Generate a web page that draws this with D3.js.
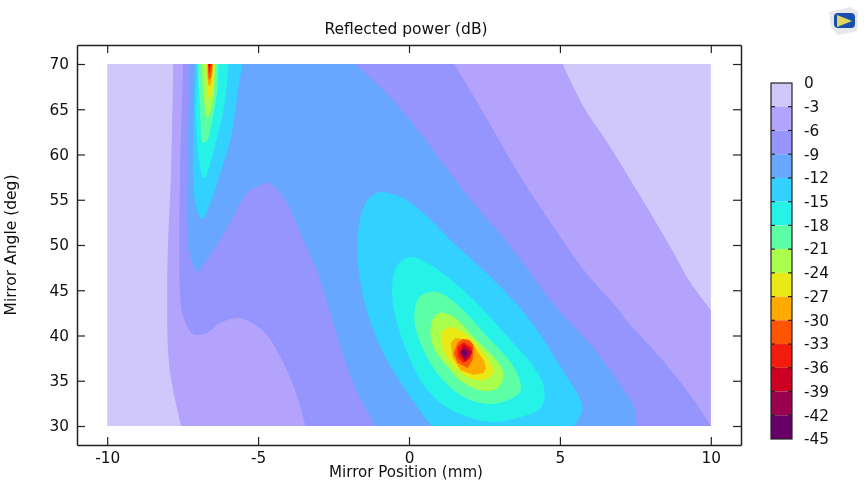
<!DOCTYPE html>
<html><head><meta charset="utf-8">
<script src="https://cdn.jsdelivr.net/npm/d3@7"></script>
<style>html,body{margin:0;padding:0;background:#fff}svg{display:block;filter:blur(0.35px)}text{font-family:"DejaVu Sans";fill:#111}</style>
</head><body><svg id="c" width="866" height="487"></svg>
<script>
const xTicks=[-10,-5,0,5,10];
const yTicks=[30,35,40,45,50,55,60,65,70];
const legendLevels=[0,-3,-6,-9,-12,-15,-18,-21,-24,-27,-30,-33,-36,-39,-42,-45];
const bandColors=["#d0c8fa","#b3a3fc","#9595fd","#67a7ff","#33d1ff","#27f2e8","#5dffa6","#aaff4d","#e9e916","#ffaa00","#ff5500","#f21b0d","#cc0022","#99004d","#660066"];
// contour lines: [mirror position mm, mirror angle deg]
const m3West=[[-7.81,70],[-7.88,58.29],[-7.98,50.55],[-8.01,45.36],[-7.94,36.52],[-7.55,30]];
const cornerSE=[[10,30]];
const m3East=[[10,42.82],[9.27,46.13],[8.77,49.12],[7.68,55.3],[6.58,61.27],[5.79,65.25],[5.09,70]];
const m6West=[[-7.48,70],[-7.58,58.29],[-7.61,50.55],[-7.58,44.25],[-7.48,42.04],[-7.21,40.28],[-7.01,40.06],[-6.65,40.39],[-6.25,41.38],[-5.66,41.93],[-5.26,41.49],[-4.76,40.28],[-4.16,36.96],[-3.7,33.2],[-3.43,30]];
const m6East=[[10,30],[9.44,32.87],[8.34,37.51],[7.25,41.49],[6.92,42.93],[5.79,47.24],[4.79,51.99],[3.7,57.51],[2.6,63.81],[1.51,70]];
const m9West=[[-7.25,70],[-7.35,51.33],[-7.25,48.67],[-7.01,47.02],[-6.82,47.79],[-6.48,49.45],[-5.92,52.54],[-5.36,55.75],[-4.93,56.63],[-4.66,56.85],[-4.33,56.08],[-3.93,53.87],[-3.5,50.55],[-3.03,46.91],[-2.6,42.49],[-2.27,38.73],[-1.71,33.65],[-1.11,30]];
const m9East=[[7.55,30],[7.45,32.1],[7.11,33.98],[6.12,38.62],[4.93,42.93],[3.27,50.22],[2.14,54.64],[1.04,59.39],[-0.05,64.14],[-0.85,67.13],[-1.77,70]];
const m12Top=[[-5.52,70],[-5.66,67.13],[-5.92,61.6],[-6.25,57.96],[-6.58,54.64],[-6.85,52.87],[-7.05,54.2],[-7.15,56.85],[-7.15,61.6],[-7.08,70]];
const m12Low=[[0.75,30],[-0.05,33.65],[-0.85,38.07],[-1.38,42.49],[-1.67,47.24],[-1.71,50.55],[-1.54,53.87],[-1.28,55.3],[-0.95,55.86],[-0.28,55.3],[0.48,53.54],[1.48,50.22],[2.7,46.46],[3.93,42.04],[5.02,36.52],[5.75,31.99],[5.46,30]];
const m15Top=[[-5.99,70],[-6.09,66.02],[-6.32,62.38],[-6.58,59.06],[-6.75,57.51],[-6.82,57.4],[-6.98,60.17],[-7.05,63.48],[-7.01,70]];
const m15Low=[[0.05,48.67],[0.71,47.79],[1.48,45.91],[2.37,43.15],[3.27,39.83],[4.13,36.52],[4.49,33.98],[4.36,31.99],[3.7,30.99],[2.8,30.44],[1.94,30.99],[1.04,32.54],[0.38,35.08],[-0.18,39.17],[-0.51,43.15],[-0.55,45.8],[-0.38,47.79]];
const m18Top=[[-6.32,70],[-6.35,67.13],[-6.52,63.81],[-6.68,61.6],[-6.82,61.27],[-6.92,64.92],[-6.98,70]];
const m18Low=[[0.71,44.81],[1.04,44.7],[1.71,43.04],[2.6,39.83],[3.47,36.52],[3.7,33.98],[3.27,32.87],[2.6,32.43],[1.81,33.2],[1.04,35.41],[0.48,38.4],[0.18,41.71],[0.32,44.14]];
const m21Top=[[-6.42,70],[-6.48,66.35],[-6.62,64.36],[-6.68,64.14],[-6.82,67.13],[-6.85,70]];
const m21Low=[[1.04,42.49],[1.48,42.04],[2.14,39.83],[2.94,37.07],[3.13,35.86],[2.94,34.2],[2.47,33.87],[1.81,34.75],[1.28,36.52],[0.81,38.73],[0.71,40.61],[0.81,41.93]];
const m24Top=[[-6.45,70],[-6.48,68.12],[-6.55,66.46],[-6.62,66.24],[-6.68,68.12],[-6.72,70]];
const m24Low=[[1.38,40.94],[1.81,40.28],[2.47,38.07],[2.8,35.97],[2.47,35.08],[1.94,35.41],[1.38,36.96],[1.11,38.73],[1.08,40.28]];
const m27Top=[[-6.48,70],[-6.52,68.78],[-6.58,67.68],[-6.62,67.57],[-6.68,68.78],[-6.68,70]];
const m27Low=[[1.54,39.72],[1.97,39.5],[2.2,38.6],[2.47,37.29],[2.55,36.4],[2.47,35.86],[2.14,35.64],[1.71,36.19],[1.44,37.62],[1.38,39.17]];
const m30Top=[[-6.52,70],[-6.55,68.78],[-6.62,68.23],[-6.65,68.78],[-6.65,70]];
const m30Low=[[1.77,39.61],[2.0,39.5],[2.14,38.95],[2.11,37.29],[1.94,36.41],[1.61,36.96],[1.48,38.07],[1.61,39.17]];
const m33Top=[[-6.55,70],[-6.62,69],[-6.65,70]];
const m33Low=[[1.81,39.28],[2.11,38.62],[2.04,37.51],[1.81,36.96],[1.61,37.62],[1.61,38.73]];
const m36Top=[[-6.58,70],[-6.62,69.65],[-6.64,70]];
const m36Low=[[1.81,39.06],[2.11,38.18],[1.87,37.07],[1.68,38.07]];
const m39Low=[[1.81,38.73],[2.04,38.07],[1.84,37.29],[1.71,38.07]];
const m42Low=[[1.81,38.51],[1.94,38.07],[1.84,37.62],[1.74,38.07]];

const regions=[
 [1,false,[m3West,cornerSE,m3East]],
 [2,false,[m6West,m6East]],
 [3,false,[m9West,m9East]],
 [4,false,[m12Top]],[4,false,[m12Low]],
 [5,false,[m15Top]],[5,true,[m15Low]],
 [6,false,[m18Top]],[6,true,[m18Low]],
 [7,false,[m21Top]],[7,true,[m21Low]],
 [8,false,[m24Top]],[8,true,[m24Low]],
 [9,false,[m27Top]],[9,"poly",[m27Low]],
 [10,false,[m30Top]],[10,"poly",[m30Low]],
 [11,false,[m33Top]],[11,"poly",[m33Low]],
 [12,false,[m36Top]],[12,"poly",[m36Low]],
 [13,"poly",[m39Low]],
 [14,"poly",[m42Low]]
];

const svg=d3.select("#c");
const x=d3.scaleLinear().domain([-11,11]).range([77,741]);
const y=d3.scaleLinear().domain([27.9,72.1]).range([445,45]);
const g=svg.append("g");
g.append("rect").attr("x",x(-10)).attr("y",y(70)).attr("width",x(10)-x(-10)).attr("height",y(30)-y(70)).attr("fill",bandColors[0]);
const openLine=d3.line().x(d=>x(d[0])).y(d=>y(d[1])).curve(d3.curveCatmullRom.alpha(0.5));
const closedLine=d3.line().x(d=>x(d[0])).y(d=>y(d[1])).curve(d3.curveCatmullRomClosed.alpha(0.5));
const polyLine=d3.line().x(d=>x(d[0])).y(d=>y(d[1])).curve(d3.curveLinearClosed);
function regionPath(closed,segs){
  if(closed==="poly") return polyLine(segs[0]);
  if(closed) return closedLine(segs[0]);
  return segs.map((s,i)=>{
    const p=s.length===1?`M${x(s[0][0])},${y(s[0][1])}`:openLine(s);
    return i?"L"+p.slice(1):p;
  }).join("")+"Z";
}
g.selectAll("path.band").data(regions).join("path").attr("class","band")
 .attr("d",d=>regionPath(d[1],d[2])).attr("fill",d=>bandColors[d[0]]);

const tickCol="#222";
function styleAxis(a){a.select(".domain").attr("stroke",tickCol).attr("stroke-width",1.5);
 a.selectAll(".tick line").attr("stroke",tickCol).attr("stroke-width",1.2);
 a.selectAll("text").attr("font-size",15.3).attr("font-family","DejaVu Sans").attr("fill","#111");}
const fmt=d=>String(d);
styleAxis(svg.append("g").attr("transform","translate(0,445)").call(d3.axisBottom(x).tickValues(xTicks).tickFormat(fmt).tickSize(-8).tickPadding(7).tickSizeOuter(0)));
styleAxis(svg.append("g").attr("transform","translate(0,45)").call(d3.axisTop(x).tickValues(xTicks).tickFormat("").tickSize(-8).tickSizeOuter(0)));
styleAxis(svg.append("g").attr("transform","translate(77,0)").call(d3.axisLeft(y).tickValues(yTicks).tickFormat(fmt).tickSize(-8).tickPadding(8).tickSizeOuter(0)));
styleAxis(svg.append("g").attr("transform","translate(741,0)").call(d3.axisRight(y).tickValues(yTicks).tickFormat("").tickSize(-8).tickSizeOuter(0)));

svg.append("text").attr("x",406).attr("y",34).attr("text-anchor","middle").attr("font-size",15.5).text("Reflected power (dB)");
svg.append("text").attr("x",406).attr("y",477).attr("text-anchor","middle").attr("font-size",15.1).text("Mirror Position (mm)");
svg.append("text").attr("transform","translate(16,245) rotate(-90)").attr("text-anchor","middle").attr("font-size",15.5).text("Mirror Angle (deg)");

// colour legend
const leg=d3.scaleLinear().domain([0,-45]).range([83,439]);
svg.selectAll("rect.leg").data(bandColors).join("rect").attr("class","leg")
 .attr("x",771).attr("width",21).attr("y",(d,i)=>leg(legendLevels[i])).attr("height",(d,i)=>leg(legendLevels[i+1])-leg(legendLevels[i])).attr("fill",d=>d);
svg.append("rect").attr("x",771).attr("y",83).attr("width",21).attr("height",356).attr("fill","none").attr("stroke",tickCol).attr("stroke-width",1.2);
const inner=legendLevels.slice(1,-1);
svg.selectAll("line.l1").data(inner).join("line").attr("class","l1").attr("x1",771).attr("x2",775).attr("y1",d=>leg(d)).attr("y2",d=>leg(d)).attr("stroke",tickCol).attr("stroke-width",1.2);
svg.selectAll("line.l2").data(inner).join("line").attr("class","l2").attr("x1",788).attr("x2",792).attr("y1",d=>leg(d)).attr("y2",d=>leg(d)).attr("stroke",tickCol).attr("stroke-width",1.2);
svg.selectAll("text.lt").data(legendLevels).join("text").attr("class","lt").attr("x",804).attr("y",d=>leg(d)).attr("dy","0.35em").attr("font-size",15.3).text(d=>String(d));

// small application logo, top right
const logo=svg.append("g");
logo.append("path").attr("d","M829,12 L851,7 L858,12 L857,31 L838,35 L831,27Z").attr("fill","#e6e8ec");
logo.append("rect").attr("x",834).attr("y",13).attr("width",21).attr("height",15).attr("rx",4).attr("fill","#1a4fb0");
logo.append("path").attr("d","M837,15 L852,21 L837,27Z").attr("fill","#e0d85a");
</script></body></html>
